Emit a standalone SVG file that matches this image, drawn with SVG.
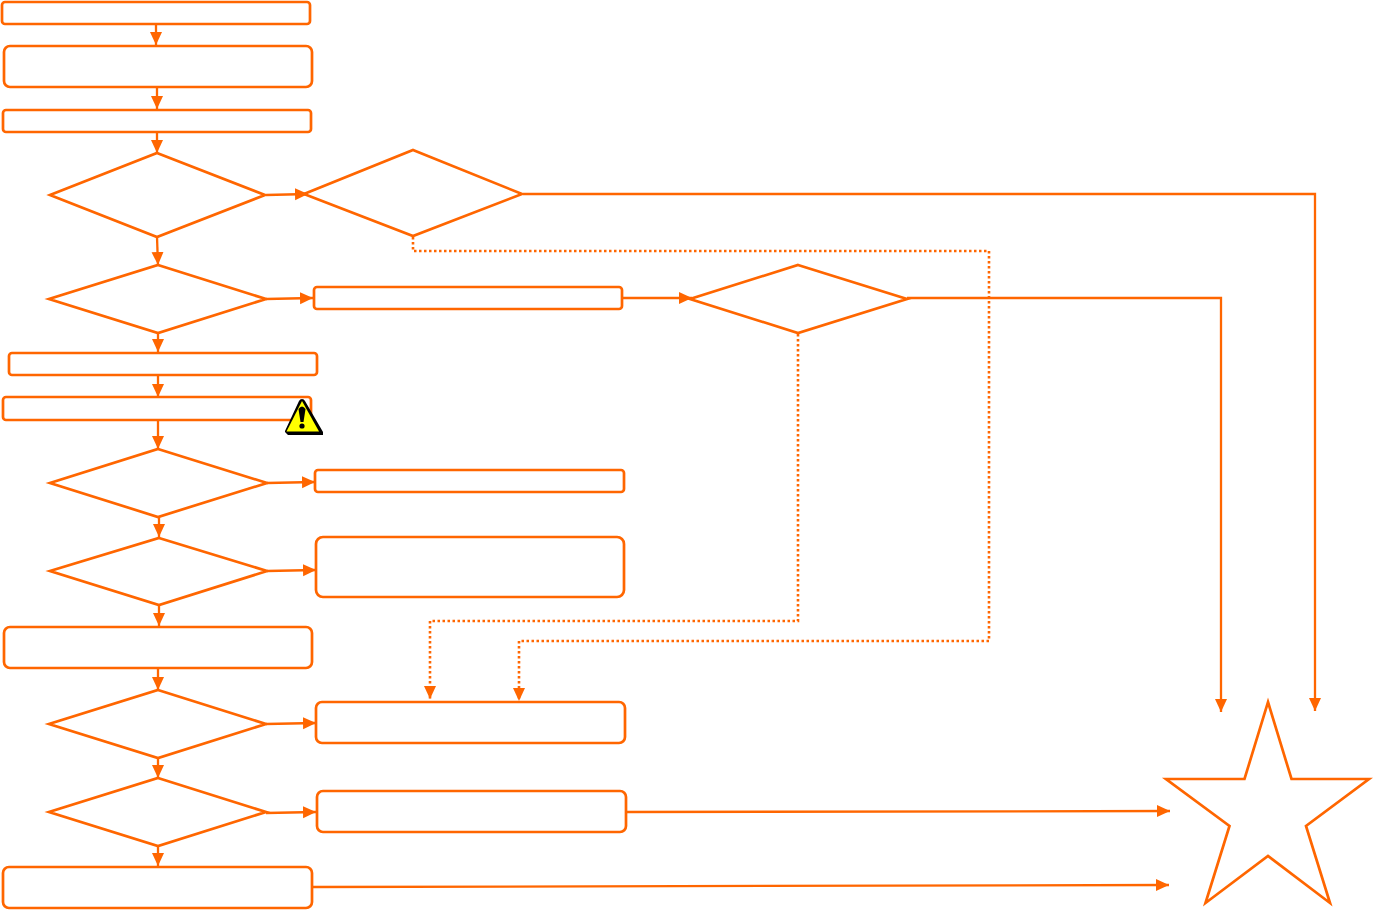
<svg xmlns="http://www.w3.org/2000/svg" width="1373" height="910" viewBox="0 0 1373 910">
<style>
.n{fill:#fff;stroke:#f60;stroke-width:2.7;stroke-linejoin:miter}
.c{fill:none;stroke:#f60;stroke-width:2.300;marker-end:url(#a)}
.d{stroke-width:2.600;stroke-dasharray:2.500 2.500}
</style>
<defs>
<marker id="a" markerUnits="userSpaceOnUse" markerWidth="14" markerHeight="14" refX="13" refY="7" orient="auto"><path d="M0 1L13 7L0 13Z" fill="#f60"/></marker>
</defs>
<rect width="1373" height="910" fill="#fff"/>
<g id="n1"><rect class="n" x="2" y="2" width="308" height="22" rx="3"/></g>
<g id="n2"><rect class="n" x="4" y="46" width="308" height="41" rx="6"/></g>
<g id="n3"><rect class="n" x="3" y="110" width="308" height="22" rx="3"/></g>
<g id="d1"><path class="n" d="M157 153L265 195L157 237L50 195Z"/></g>
<g id="d2"><path class="n" d="M413 150L522 194L413 236L304 194Z"/></g>
<g id="d3"><path class="n" d="M158 265L266 299L158 333L49 299Z"/></g>
<g id="n4"><rect class="n" x="314" y="287" width="308" height="22" rx="3"/></g>
<g id="d4"><path class="n" d="M798 265L907 299L798 333L690 299Z"/></g>
<g id="n5"><rect class="n" x="9" y="353" width="308" height="22" rx="3"/></g>
<g id="n6"><rect class="n" x="3" y="397" width="308" height="23" rx="3"/></g>
<g id="d5"><path class="n" d="M158 449L267 483L158 517L50 483Z"/></g>
<g id="n7"><rect class="n" x="315" y="470" width="309" height="22" rx="3"/></g>
<g id="d6"><path class="n" d="M159 538L267 571L159 605L50 571Z"/></g>
<g id="n8"><rect class="n" x="316" y="537" width="308" height="60" rx="7"/></g>
<g id="n9"><rect class="n" x="4" y="627" width="308" height="41" rx="6"/></g>
<g id="d7"><path class="n" d="M158 690L266 724L158 758L49 724Z"/></g>
<g id="n10"><rect class="n" x="316" y="702" width="309" height="41" rx="6"/></g>
<g id="d8"><path class="n" d="M158 778L266 812L158 846L49 812Z"/></g>
<g id="n11"><rect class="n" x="317" y="791" width="309" height="41" rx="6"/></g>
<g id="n12"><rect class="n" x="3" y="867" width="309" height="41" rx="6"/></g>
<g id="star"><path class="n" d="M1268 702L1291.500 779H1369L1306 826L1330 903L1268 856L1205.500 903L1229.500 826L1166 779H1244.500Z"/></g>
<g id="connectors">
<path class="c" d="M156 24V45"/>
<path class="c" d="M157 88V109"/>
<path class="c" d="M157 132V153"/>
<path class="c" d="M266 195L308 194"/>
<path class="c" d="M157 237L158 265"/>
<path class="c" d="M523 194H1315V711"/>
<path class="c d" d="M413 237V251H989V641H519V701"/>
<path class="c" d="M266 299L313 298"/>
<path class="c" d="M158 333V352"/>
<path class="c" d="M622 298H692"/>
<path class="c" d="M907 298H1221V712"/>
<path class="c d" d="M798 334V621H430V699"/>
<path class="c" d="M158 376V397"/>
<path class="c" d="M158 420V449"/>
<path class="c" d="M267 483L315 482"/>
<path class="c" d="M159 517V537"/>
<path class="c" d="M267 571L316 570"/>
<path class="c" d="M159 605V626"/>
<path class="c" d="M158 668V690"/>
<path class="c" d="M266 724L316 723"/>
<path class="c" d="M158 758V778"/>
<path class="c" d="M266 813L316 812"/>
<path class="c" d="M158 846V866"/>
<path class="c" d="M626 812L1170 811"/>
<path class="c" d="M312 887L1169 885"/>
</g>
<g id="warning">
<path d="M302 399Q304 399 305 401L323 432V435H288L285 432V431L299 401Q300 399 302 399Z" fill="#000"/>
<path d="M302 401L319 431.500H286.500Z" fill="#ff0"/>
<path d="M298.500 409Q302 404 305.500 409L303.500 422H300.500Z" fill="#000"/>
<circle cx="302" cy="426" r="2.600" fill="#000"/>
</g>
</svg>
